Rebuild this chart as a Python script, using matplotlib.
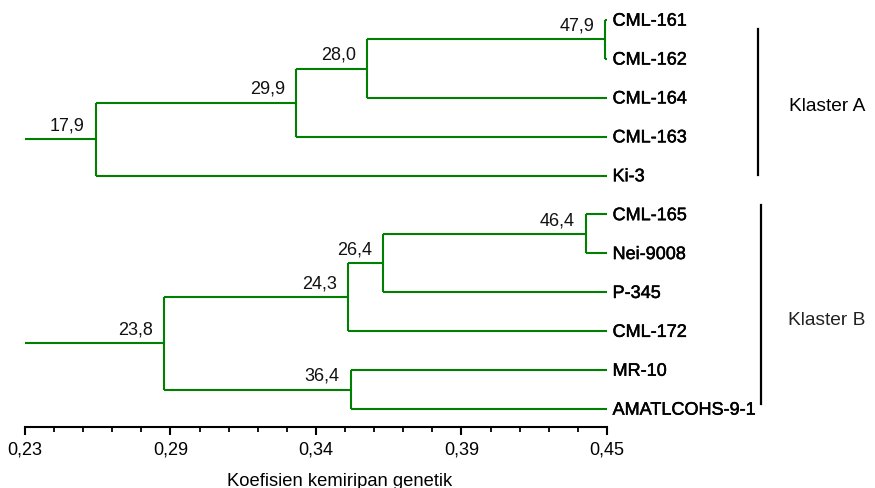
import matplotlib
matplotlib.use("Agg")
import matplotlib.pyplot as plt
import matplotlib.patheffects as pe

plt.rcParams['font.family'] = ['Liberation Sans', 'DejaVu Sans']

# ---- data ----
leaves = ["CML-161", "CML-162", "CML-164", "CML-163", "Ki-3",
          "CML-165", "Nei-9008", "P-345", "CML-172", "MR-10", "AMATLCOHS-9-1"]

node_names = ["a1", "a2", "a3", "a4", "b1", "b2", "b3", "b4", "b5"]
node_left  = ["CML-161", "a1", "a2", "a3", "CML-165", "b1", "b2", "MR-10", "b3"]
node_right = ["CML-162", "CML-164", "CML-163", "Ki-3", "Nei-9008", "P-345", "CML-172", "AMATLCOHS-9-1", "b4"]
node_sim   = [0.4493, 0.3593, 0.3325, 0.2568, 0.4421, 0.3654, 0.3521, 0.3532, 0.2826]
node_boot  = ["47,9", "28,0", "29,9", "17,9", "46,4", "26,4", "24,3", "36,4", "23,8"]
roots = ["a4", "b5"]

x_min, x_max = 0.23, 0.45
major_ticks = [0.23, 0.285, 0.34, 0.395, 0.45]
major_labels = ["0,23", "0,29", "0,34", "0,39", "0,45"]

clusters = ["Klaster A", "Klaster B"]

# ---- drawing ----
W, H = 875, 489
fig = plt.figure(figsize=(W / 100, H / 100), dpi=100)
ax = fig.add_axes([25 / W, 1 - 428 / H, (607 - 25) / W, 428 / H])

GREEN = "#008000"
LW = 1.5

node_idx = {n: i for i, n in enumerate(node_names)}


def draw(name):
    """Return (x, y) of the node and draw its subtree."""
    if name in leaves:
        return x_max, leaves.index(name)
    i = node_idx[name]
    x = node_sim[i]
    ys = []
    for child in (node_left[i], node_right[i]):
        cx, cy = draw(child)
        ax.plot([x, cx], [cy, cy], color=GREEN, lw=LW, solid_capstyle='butt')
        ys.append(cy)
    ax.plot([x, x], [ys[0], ys[1]], color=GREEN, lw=LW, solid_capstyle='butt')
    y = sum(ys) / 2
    ax.annotate(node_boot[i], (x, y), xytext=(-8, 7), textcoords='offset points',
                ha='right', va='baseline', fontsize=13, color='#111111')
    return x, y


for r in roots:
    rx, ry = draw(r)
    ax.plot([x_min, rx], [ry, ry], color=GREEN, lw=LW, solid_capstyle='butt')

for i, name in enumerate(leaves):
    ax.annotate(name, (x_max, i + 0.03), xytext=(4, 0), textcoords='offset points',
                ha='left', va='center', fontsize=13, color='black',
                annotation_clip=False,
                path_effects=[pe.withStroke(linewidth=0.35, foreground='black')])

# cluster bars and labels
ax.plot([0.5071, 0.5071], [0.23, 3.98], color='black', lw=1.6, clip_on=False)
ax.plot([0.5083, 0.5083], [4.76, 9.87], color='black', lw=1.6, clip_on=False)
ax.text(0.5189, 2.19, clusters[0], ha='left', va='center', fontsize=13.8,
        color='black', clip_on=False)
ax.text(0.5186, 7.69, clusters[1], ha='left', va='center', fontsize=13.8,
        color='#222222', clip_on=False)

ax.set_xlim(x_min, x_max)
ax.set_ylim(10.463, -0.54)
for s in ("top", "right", "left"):
    ax.spines[s].set_visible(False)
ax.spines["bottom"].set_linewidth(1.5)
ax.set_yticks([])
ax.set_xticks(major_ticks)
ax.set_xticklabels(major_labels, fontsize=13)
minor = [x_min + k * 0.011 for k in range(21)]
ax.set_xticks(minor, minor=True)
ax.tick_params(axis='x', which='major', direction='out', length=6, width=1.5, pad=4)
ax.tick_params(axis='x', which='minor', direction='out', length=3.6, width=1.3)

fig.text(340 / W, 1 - 486 / H, "Koefisien kemiripan genetik", ha='center',
         va='baseline', fontsize=13.2)

fig.savefig("out.png", dpi=100)
